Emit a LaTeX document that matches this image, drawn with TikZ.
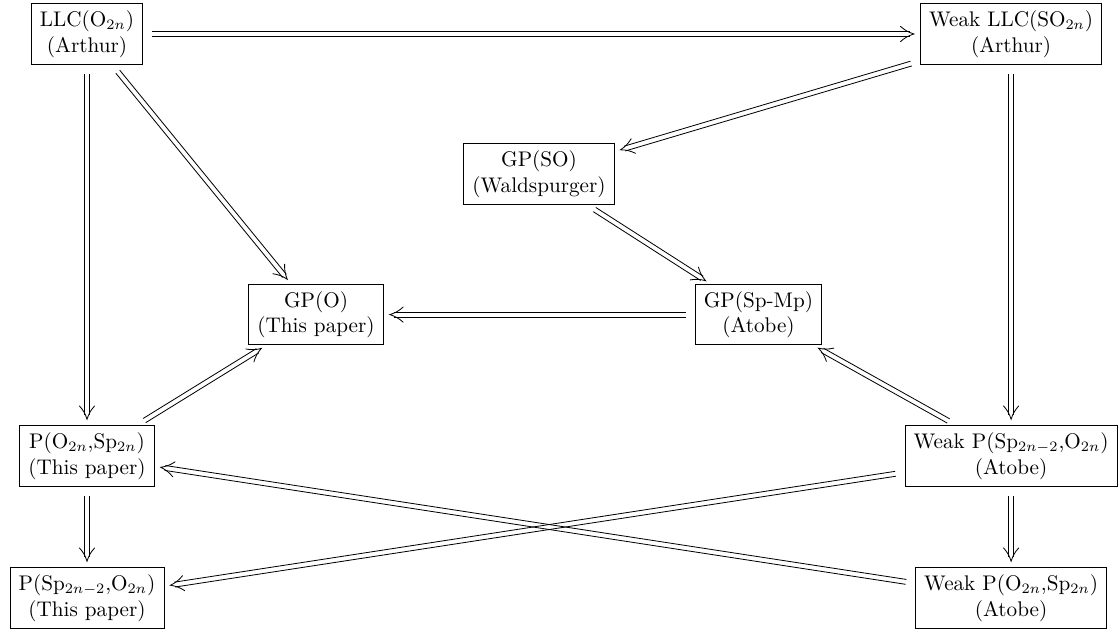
\documentclass[tikz,border=0pt]{standalone}
\usetikzlibrary{calc}
\newcommand{\imparrow}[2]{%
  \path (#1) -- (#2) coordinate[pos=0] (s0) coordinate[pos=1] (t0);
  \coordinate (s) at ($(s0)!4.5pt!(t0)$);
  \coordinate (t) at ($(t0)!3pt!(s0)$);
  \coordinate (e) at ($(t)!2.1pt!(s)$);
  \coordinate (b) at ($(t)!6.5pt!(s)$);
  \draw ($(s)!1.2pt!90:(t)$) -- ($(e)!1.2pt!-90:(s)$);
  \draw ($(s)!1.2pt!-90:(t)$) -- ($(e)!1.2pt!90:(s)$);
  \draw[line cap=round] ($(b)!3.7pt!90:(t)$) to[bend right=12] (t)
    to[bend right=12] ($(b)!3.7pt!-90:(t)$);
}
\begin{document}
\begin{tikzpicture}[
box/.style={draw, align=center, inner xsep=4.2pt, font=\fontsize{10.3pt}{12.4pt}\selectfont}
]
\useasboundingbox (0,0) rectangle (19.135,-10.739);

% top row
\node[box] (llcO) at (1.488,-0.581) {LLC(O$_{2n}$)\\(Arthur)};
\node[box] (llcSO) at (17.29,-0.581) {Weak LLC(SO$_{2n}$)\\(Arthur)};

% middle
\node[box] (gpSO) at (9.217,-2.975) {GP(SO)\\(Waldspurger)};
\node[box] (gpO) at (5.404,-5.380) {GP(O)\\(This paper)};
\node[box] (gpSpMp) at (12.97,-5.380) {GP(Sp-Mp)\\(Atobe)};

% lower rows
\node[box] (pOSp) at (1.488,-7.798) {P(O$_{2n}$,Sp$_{2n}$)\\(This paper)};
\node[box] (wpSpO) at (17.29,-7.798) {Weak P(Sp$_{2n-2}$,O$_{2n}$)\\(Atobe)};
\node[box] (pSpO) at (1.488,-10.226) {P(Sp$_{2n-2}$,O$_{2n}$)\\(This paper)};
\node[box] (wpOSp) at (17.29,-10.226) {Weak P(O$_{2n}$,Sp$_{2n}$)\\(Atobe)};

\foreach \a/\b in {llcO/llcSO, llcO/pOSp, llcO/gpO, llcSO/gpSO, llcSO/wpSpO,
  gpSO/gpSpMp, gpSpMp/gpO, wpSpO/gpSpMp, pOSp/gpO, pOSp/pSpO,
  wpSpO/wpOSp, wpSpO/pSpO, wpOSp/pOSp}
  \imparrow{\a}{\b};

\end{tikzpicture}
\end{document}
